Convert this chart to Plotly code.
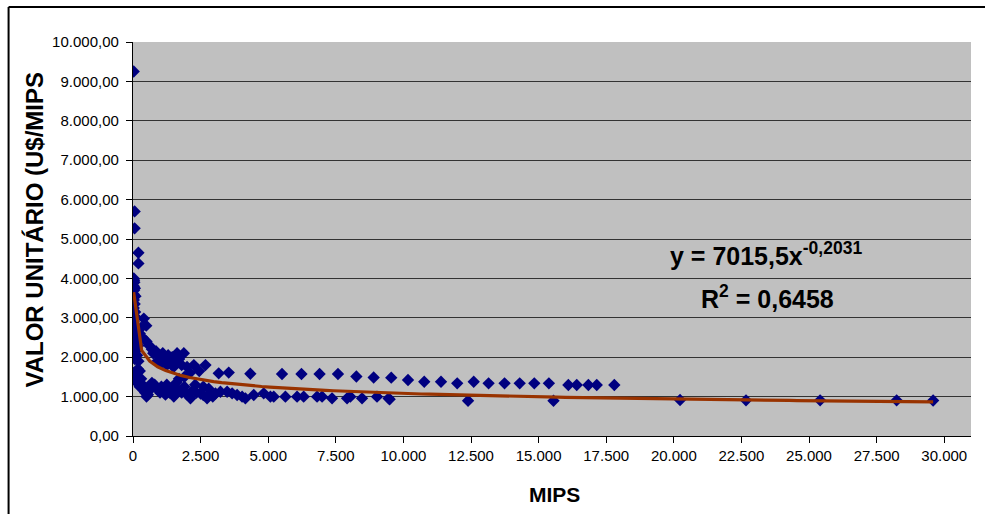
import numpy as np
import plotly.graph_objects as go

# ---- data ----
mips = [
    25, 60, 60, 200, 200,
    30, 40, 50, 30, 70, 40, 25, 90, 30, 60, 25, 80, 40, 110, 25, 60, 100, 30, 70, 130,
    25, 50, 90, 40, 150, 30, 70, 200,
    400, 490, 300, 250, 350, 200,
    30, 60, 120, 35, 180, 250, 300, 150, 350, 400, 250, 450, 500, 550, 600, 650, 700,
    800, 900, 1000, 1050, 1100, 1200, 1250, 1350, 1450, 1510, 1600, 1700, 1800, 1900,
    2000, 2125, 2200, 2350, 2500, 2600, 2740, 2850, 2950, 3050,
    500, 600, 700, 750, 850, 950, 1000, 1100, 1200, 1300, 1350, 1450, 1550, 1630, 1700,
    1880, 1800, 1500, 1250, 1050, 900, 2000, 2250, 2680, 2100, 2450, 1700, 1900, 2300,
    2600, 2800,
    3170, 3540, 4340, 5510, 6230, 6900, 7580, 8260, 8900, 9550, 10170, 10770, 11390,
    11990, 12600, 13150, 13740, 14300, 14840, 15380, 16100, 16410, 16840, 17150, 17800,
    3234, 3481, 3666, 3851, 4035, 4157, 4465, 4834, 5082, 5205, 5636, 6068, 6312, 6807,
    6992, 7361, 7916, 8037, 8470, 9024, 9453,
    9490, 12390, 15550, 20230, 22670, 25410, 28240, 29590,
]
valor_unitario = [
    9250, 5700, 5270, 4650, 4380,
    4000, 3950, 3900, 3800, 3750, 3700, 3600, 3550, 3450, 3350, 3250, 3150, 3050, 3000,
    2900, 2800, 2700, 2600, 2500, 2450,
    2350, 2250, 2150, 2100, 2050, 2050, 1950, 1900,
    2980, 2800, 2750, 2600, 2500, 2300,
    1600, 1550, 1500, 1450, 1700, 1650, 1450, 1350, 1300, 1200, 1250, 1100, 1000, 1050,
    1150, 1250, 1350,
    1300, 1200, 1100, 1250, 1150, 1050, 1300, 1100, 1200, 1000, 1350, 1150, 1100, 1250,
    1050, 955, 1150, 1100, 1080, 1040, 955, 1050, 1000, 1080,
    2400, 2300, 2200, 2100, 2150, 2050, 2000, 2100, 1950, 2050, 1900, 2000, 1850, 2100,
    1950, 2100, 1800, 1750, 1800, 1850, 1900, 1750, 1800, 1800, 1600, 1650, 1450, 1500,
    1300, 1250, 1200,
    1590, 1610, 1580, 1573, 1573, 1573, 1573, 1510, 1485, 1480, 1421, 1378, 1378, 1337,
    1378, 1337, 1337, 1337, 1337, 1337, 1294, 1294, 1294, 1294, 1294,
    1124, 1124, 1083, 1040, 998, 955, 1040, 1083, 998, 998, 998, 998, 998, 998, 998, 955,
    955, 998, 955, 998, 955,
    931, 896, 896, 914, 905, 905, 905, 900,
]
# power trendline shown on the chart
trend_a = 7015.5
trend_b = -0.2031
eq_line1 = "y = 7015,5x<sup>-0,2031</sup>"
eq_line2 = "R<sup>2</sup> = 0,6458"

x_title = "MIPS"
y_title = "VALOR UNITÁRIO (U$/MIPS"

y_max = 10000

# ---- figure ----
W, H = 985, 514
L, R, T, B = 132.5, 14, 42, 78
pw, ph = W - L - R, H - T - B

def px(xp):
    return (xp - L) / pw

def py(yp):
    return (H - B - yp) / ph

x_arr = np.array(mips, dtype=float)
x_tr = np.linspace(x_arr.min(), x_arr.max(), 101)
y_tr = trend_a * np.power(x_tr, trend_b)

fig = go.Figure()
fig.add_trace(go.Scatter(
    x=mips, y=valor_unitario, mode="markers",
    marker=dict(symbol="diamond", size=9.5, color="#000080", line=dict(width=0)),
    hoverinfo="x+y", showlegend=False,
))
fig.add_trace(go.Scatter(
    x=x_tr, y=y_tr, mode="lines",
    line=dict(color="#993300", width=3.2),
    hoverinfo="skip", showlegend=False,
))

font_family = "Liberation Sans, Arial, sans-serif"

fig.update_layout(
    width=W, height=H,
    margin=dict(l=L, r=R, t=T, b=B, pad=0),
    paper_bgcolor="white",
    plot_bgcolor="#C0C0C0",
    separators=",.",
    font=dict(family=font_family, color="black", size=15),
    xaxis=dict(
        range=[0, 30990], tick0=0, dtick=2500, tickformat=",d",
        showgrid=False, zeroline=False,
        showline=True, linecolor="black", linewidth=1.3,
        ticks="outside", ticklen=6, tickcolor="black", tickwidth=1,
        tickfont=dict(size=15, color="black"),
    ),
    yaxis=dict(
        range=[0, y_max], tick0=0, dtick=1000, tickformat=",.2f",
        showgrid=True, gridcolor="#333333", gridwidth=1,
        zeroline=False,
        showline=True, linecolor="black", linewidth=1.3,
        ticks="outside", ticklen=6, tickcolor="black", tickwidth=1,
        tickfont=dict(size=15, color="black"),
        ticklabelstandoff=4,
    ),
    annotations=[
        dict(text=f"<b>{y_title}</b>", textangle=-90, xref="paper", yref="paper",
             x=px(33), y=py(230), xanchor="center", yanchor="middle", showarrow=False,
             font=dict(size=24, family=font_family, color="black")),
        dict(text=f"<b>{x_title}</b>", xref="paper", yref="paper",
             x=px(554), y=py(494), xanchor="center", yanchor="middle", showarrow=False,
             font=dict(size=21, family=font_family, color="black")),
        dict(text=f"<b>{eq_line1}</b>", xref="paper", yref="paper",
             x=px(766), y=py(254), xanchor="center", yanchor="middle", showarrow=False,
             font=dict(size=25, family=font_family, color="black")),
        dict(text=f"<b>{eq_line2}</b>", xref="paper", yref="paper",
             x=px(767), y=py(297), xanchor="center", yanchor="middle", showarrow=False,
             font=dict(size=25, family=font_family, color="black")),
    ],
    shapes=[
        # hide the gridline on the top edge of the plot area
        dict(type="line", xref="paper", yref="y", x0=0.002, x1=1, y0=y_max, y1=y_max,
             line=dict(color="#C0C0C0", width=2), layer="above"),
        dict(type="line", xref="paper", yref="paper", x0=px(8), x1=px(990), y0=py(7), y1=py(7),
             line=dict(color="black", width=2)),
        dict(type="line", xref="paper", yref="paper", x0=px(8), x1=px(8), y0=py(7), y1=py(520),
             line=dict(color="black", width=2)),
    ],
)

fig.write_html("out.html")
